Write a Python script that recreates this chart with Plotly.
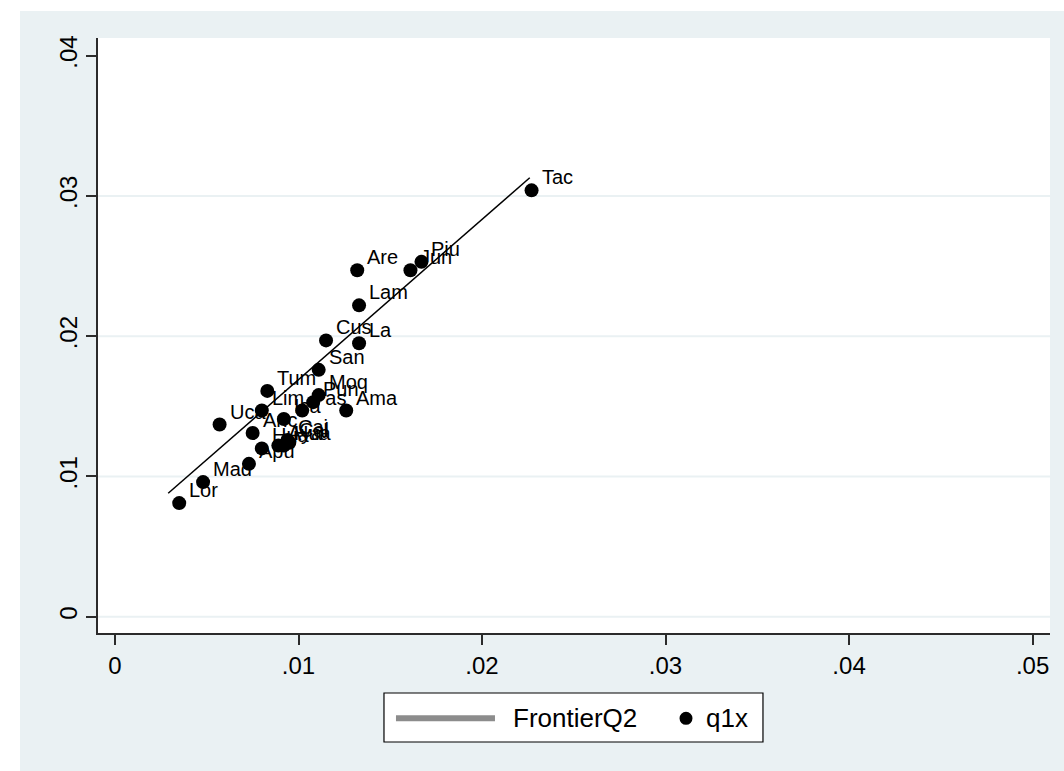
import plotly.graph_objects as go

# Department abbreviations and their (x, y) efficiency coordinates
regions = ["Tac", "Piu", "Jun", "Are", "Lam", "Cus", "La", "San", "Tum", "Moq",
           "Pun", "Pas", "Ica", "Ama", "Lim", "Uca", "Anc", "Apu", "Hua", "Hua",
           "Aya", "Caj", "Cal", "Mad", "Lor"]
q1x_x = [0.0227, 0.0167, 0.0161, 0.0132, 0.0133, 0.0115, 0.0133, 0.0111, 0.0083, 0.0111,
         0.0108, 0.0102, 0.0092, 0.0126, 0.0080, 0.0057, 0.0075, 0.0073, 0.0080, 0.0092,
         0.0089, 0.0094, 0.0095, 0.0048, 0.0035]
q1x_y = [0.0304, 0.0253, 0.0247, 0.0247, 0.0222, 0.0197, 0.0195, 0.0176, 0.0161, 0.0158,
         0.0153, 0.0147, 0.0141, 0.0147, 0.0147, 0.0137, 0.0131, 0.0109, 0.0120, 0.0122,
         0.0122, 0.0126, 0.0124, 0.0096, 0.0081]

# Frontier line end points
frontier_x = [0.0029, 0.0226]
frontier_y = [0.0088, 0.0313]

x_tick_vals = [0, 0.01, 0.02, 0.03, 0.04, 0.05]
x_tick_text = ["0", ".01", ".02", ".03", ".04", ".05"]
y_tick_vals = [0, 0.01, 0.02, 0.03, 0.04]
y_tick_text = ["0", ".01", ".02", ".03", ".04"]
y_grid_vals = [0, 0.01, 0.02, 0.03]

BG = "#EAF1F3"
AXIS = "#2b2b2b"
FONT = "Liberation Sans, Arial, sans-serif"

fig = go.Figure()

fig.add_trace(go.Scatter(
    x=frontier_x, y=frontier_y, mode="lines",
    line=dict(color="black", width=1.5),
    name="FrontierQ2", showlegend=False, hoverinfo="skip",
))
fig.add_trace(go.Scatter(
    x=q1x_x, y=q1x_y, mode="markers",
    marker=dict(color="black", size=14, line=dict(width=0)),
    text=regions, name="q1x", showlegend=False,
))

# marker labels to the upper right of each point
annotations = [
    dict(x=x, y=y, text=t, xref="x", yref="y", showarrow=False,
         xanchor="left", yanchor="middle", xshift=8, yshift=13,
         font=dict(family=FONT, size=20, color="black"))
    for x, y, t in zip(q1x_x, q1x_y, regions)
]

# horizontal gridlines
shapes = [
    dict(type="line", xref="paper", yref="y", x0=0, x1=1, y0=g, y1=g,
         line=dict(color=BG, width=2), layer="below")
    for g in y_grid_vals
]

# white strips along the top and left edges of the page
shapes += [
    dict(type="rect", xref="paper", yref="paper", x0=-1, x1=2, y0=1.0454, y1=2,
         fillcolor="white", line=dict(width=0), layer="below"),
    dict(type="rect", xref="paper", yref="paper", x0=-1, x1=-0.0819, y0=-1, y1=2,
         fillcolor="white", line=dict(width=0), layer="below"),
]

# legend box below the plot
legend_y = -0.1434
shapes += [
    dict(type="rect", xref="paper", yref="paper", x0=0.3004, x1=0.6985,
         y0=-0.1832, y1=-0.1008, fillcolor="white",
         line=dict(color="black", width=1.2)),
    dict(type="line", xref="paper", yref="paper", x0=0.3130, x1=0.4170,
         y0=legend_y, y1=legend_y, line=dict(color="#8c8c8c", width=6)),
    dict(type="circle", xref="paper", yref="paper", xsizemode="pixel",
         ysizemode="pixel", xanchor=(686 - 98) / 952, yanchor=legend_y,
         x0=-6.5, x1=6.5, y0=-6.5, y1=6.5, fillcolor="black",
         line=dict(width=0)),
]
annotations += [
    dict(x=(511 - 98) / 952, y=legend_y, xref="paper", yref="paper",
         text="FrontierQ2", showarrow=False, xanchor="left", yanchor="middle",
         font=dict(family=FONT, size=26, color="black")),
    dict(x=(704 - 98) / 952, y=legend_y, xref="paper", yref="paper",
         text="q1x", showarrow=False, xanchor="left", yanchor="middle",
         font=dict(family=FONT, size=26, color="black")),
]

fig.update_layout(
    width=1064, height=771,
    margin=dict(l=98, r=14, t=38, b=138, pad=0),
    paper_bgcolor=BG, plot_bgcolor="white",
    font=dict(family=FONT, color="black"),
    showlegend=False,
    shapes=shapes, annotations=annotations,
    xaxis=dict(
        range=[-0.000926, 0.05095], tickvals=x_tick_vals, ticktext=x_tick_text,
        showgrid=False, zeroline=False, showline=True, linecolor=AXIS,
        linewidth=1.5, ticks="outside", ticklen=10, tickwidth=1.5,
        tickcolor=AXIS, tickfont=dict(size=24, family=FONT, color="black"),
    ),
    yaxis=dict(
        range=[-0.00116, 0.04126], tickvals=y_tick_vals, ticktext=y_tick_text,
        tickangle=-90,
        showgrid=False, zeroline=False, showline=True, linecolor=AXIS,
        linewidth=1.5, ticks="outside", ticklen=10, tickwidth=1.5,
        tickcolor=AXIS, tickfont=dict(size=24, family=FONT, color="black"),
    ),
)

fig.write_html("out.html")
